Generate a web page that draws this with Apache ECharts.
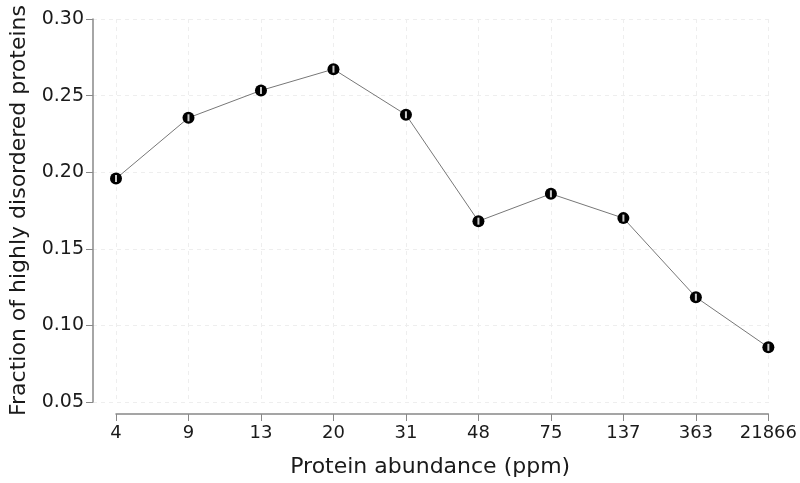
<!DOCTYPE html>
<html><head><meta charset="utf-8">
<script src="https://cdn.jsdelivr.net/npm/echarts@6/dist/echarts.min.js"></script>
<style>html,body{margin:0;padding:0;background:#fff}#c{width:800px;height:483px}</style>
</head><body><div id="c"></div>
<script>
const categories = ['4','9','13','20','31','48','75','137','363','21866'];
const fraction = [0.195, 0.235, 0.253, 0.267, 0.237, 0.167, 0.185, 0.169, 0.117, 0.084];
const yTicks = [0.05, 0.10, 0.15, 0.20, 0.25, 0.30];

const chart = echarts.init(document.getElementById('c'));
const font = 'DejaVu Sans, Verdana, sans-serif';
chart.setOption({
  animation: false,
  grid: [
    {left: 89, right: 31, top: 19, bottom: 81},
    {left: 116, right: 31, top: 19, bottom: 81}
  ],
  xAxis: [
    {gridIndex: 0, type: 'value', show: false, min: 0, max: 1},
    {gridIndex: 1, type: 'category', data: categories, boundaryGap: false, offset: 15,
     name: 'Protein abundance (ppm)', nameLocation: 'middle', nameGap: 42,
     nameTextStyle: {fontFamily: font, fontSize: 22, color: '#1a1a1a', padding: [0, 24, 0, 0]},
     axisLine: {lineStyle: {color: '#888', width: 1.5}},
     axisTick: {length: 7, interval: 0, lineStyle: {color: '#888'}},
     axisLabel: {fontFamily: font, fontSize: 18, color: '#1a1a1a', margin: 10, interval: 0},
     splitLine: {show: true, interval: 0, lineStyle: {color: '#eee', type: [4, 4]}}}
  ],
  yAxis: [
    {gridIndex: 0, type: 'value', min: yTicks[0], max: yTicks[yTicks.length - 1], interval: 0.05,
     name: 'Fraction of highly disordered proteins', nameLocation: 'middle', nameGap: 63,
     nameTextStyle: {fontFamily: font, fontSize: 22, color: '#1a1a1a'},
     axisLine: {show: true, lineStyle: {color: '#888', width: 1.5}},
     axisTick: {show: true, length: 7, lineStyle: {color: '#888'}},
     axisLabel: {fontFamily: font, fontSize: 19, color: '#1a1a1a', margin: 9,
       formatter: v => v.toFixed(2)},
     splitLine: {show: true, lineStyle: {color: '#eee', type: [4, 4]}}},
    {gridIndex: 1, type: 'value', min: yTicks[0], max: yTicks[yTicks.length - 1], show: false}
  ],
  series: [
    {type: 'line', xAxisIndex: 1, yAxisIndex: 1, data: fraction,
     lineStyle: {color: '#777', width: 1},
     symbol: 'circle', symbolSize: 12, itemStyle: {color: '#000'}},
    {type: 'scatter', xAxisIndex: 1, yAxisIndex: 1, data: fraction,
     symbol: 'rect', symbolSize: [2, 7], itemStyle: {color: '#fff'}, silent: true, z: 5}
  ]
});
</script></body></html>
